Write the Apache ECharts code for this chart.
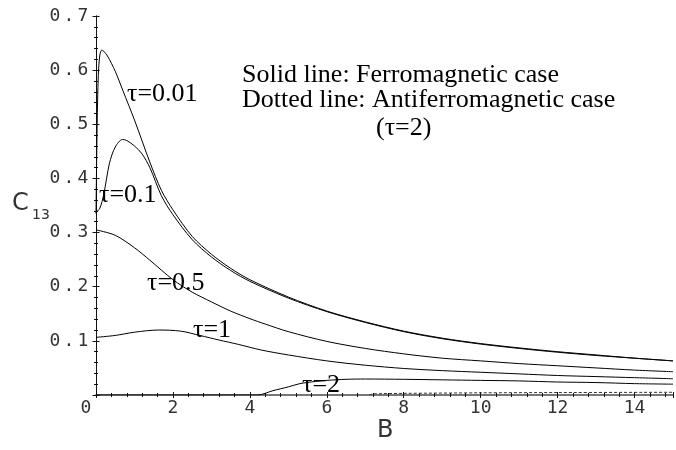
<!DOCTYPE html>
<html>
<head>
<meta charset="utf-8">
<script src="https://cdn.jsdelivr.net/npm/echarts@6/dist/echarts.min.js"></script>
<style>
  html, body { margin: 0; padding: 0; background: #fff; }
  #grafiek { width: 676px; height: 450px; }
</style>
</head>
<body>
<div id="grafiek"></div>
<script>
// concurrence C13 against field B
let tau001 = [[0, 0.335], [0.03, 0.5], [0.06, 0.59], [0.1, 0.628], [0.15, 0.637], [0.2, 0.635], [0.3, 0.626],
    [0.5, 0.598], [0.7, 0.562], [1.0, 0.508], [1.4, 0.43], [1.7, 0.378], [2.0, 0.342], [2.5, 0.293], [3, 0.26],
    [3.5, 0.234], [4, 0.213], [5, 0.181], [6, 0.155], [7, 0.135], [8, 0.118], [9, 0.105], [10, 0.095],
    [11, 0.087], [12, 0.08], [13, 0.074], [14, 0.068], [15, 0.063]];
let tau01 = [[0, 0.337], [0.1, 0.345], [0.2, 0.37], [0.35, 0.428], [0.5, 0.458], [0.69, 0.472], [0.8, 0.47],
    [1.0, 0.46], [1.2, 0.445], [1.4, 0.42], [1.7, 0.368], [2.0, 0.333], [2.5, 0.287], [3, 0.255], [3.5, 0.23],
    [4, 0.21], [5, 0.179], [6, 0.154], [7, 0.134], [8, 0.117], [9, 0.104], [10, 0.094], [11, 0.086],
    [12, 0.079], [13, 0.073], [14, 0.068], [15, 0.063]];
let tau05 = [[0, 0.305], [0.5, 0.295], [1, 0.272], [1.4, 0.249], [2, 0.213], [2.5, 0.19], [3, 0.172],
    [3.5, 0.155], [4, 0.141], [4.4, 0.131], [5, 0.117], [6, 0.099], [7, 0.086], [8, 0.076],
    [9, 0.068], [10, 0.063], [11, 0.058], [12, 0.054], [13, 0.05], [14, 0.046], [15, 0.043]];
let tau1 = [[0, 0.1065], [0.5, 0.11], [1.0, 0.116], [1.63, 0.12], [2.2, 0.118], [2.7, 0.11], [3.2, 0.1015],
    [3.7, 0.0935], [4.3, 0.083], [5, 0.074], [6, 0.063], [7, 0.055], [8, 0.049], [9, 0.045], [10, 0.042],
    [11, 0.039], [12, 0.036], [13, 0.034], [14, 0.032], [15, 0.03]];
let tau2 = [[0, 0], [4.2, 0], [4.6, 0.008], [5, 0.015], [5.3, 0.021], [5.7, 0.025], [6, 0.027], [6.5, 0.029],
    [7, 0.0295], [8, 0.029], [9, 0.028], [10, 0.027], [11, 0.026], [12, 0.024], [13, 0.023], [14, 0.021],
    [15, 0.02]];
// antiferromagnetisch geval, tau = 2 (stippellijn)
let tau2af = [[7.1, 0], [7.2, 0.002], [8, 0.003], [10, 0.004], [12, 0.0045], [15, 0.005]];

let xTicks = [0, 2, 4, 6, 8, 10, 12, 14];
let yTicks = [0.1, 0.2, 0.3, 0.4, 0.5, 0.6, 0.7];

const serif = 'Liberation Serif';
const mono = 'DejaVu Sans Mono';

function lijn(data, dashed) {
    return {
        type: 'line',
        data: data,
        showSymbol: false,
        smooth: 0.3,
        silent: true,
        lineStyle: dashed ? { color: '#333', width: 1, type: [3, 2] } : { color: '#000', width: 1 }
    };
}

function tekst(str, left, y, size) {
    return {
        type: 'text',
        left: left,
        top: y - size / 2,
        style: { text: str, font: size + 'px "' + serif + '"', fill: '#000' }
    };
}

function toonGrafiek() {
    let grafiek = echarts.init(document.getElementById('grafiek'));
    let xBase = {
        type: 'value', min: 0, max: 15, interval: 2,
        position: 'bottom',
        axisLine: { onZero: false, lineStyle: { color: '#111', width: 1 } },
        splitLine: { show: false },
        minorTick: { show: true, splitNumber: 5, length: 2, lineStyle: { color: '#111' } }
    };
    let yBase = {
        type: 'value', min: 0, max: 0.7, interval: 0.1,
        position: 'left',
        axisLine: { onZero: false, lineStyle: { color: '#111', width: 1 } },
        splitLine: { show: false },
        minorTick: { show: true, splitNumber: 5, length: 2, lineStyle: { color: '#111' } }
    };
    let option = {
        backgroundColor: '#fff',
        animation: false,
        grid: { left: 96, right: -5, top: 16, bottom: 55 },
        xAxis: [
            Object.assign({}, xBase, {
                axisTick: { length: 3, lineStyle: { color: '#111' } },
                axisLabel: {
                    margin: 4,
                    fontFamily: mono, fontSize: 18, color: '#333',
                    formatter: v => (xTicks.indexOf(v) < 0 ? '' : (v === 0 ? '{o|0}' : String(v))),
                    rich: { o: { fontFamily: mono, fontSize: 18, color: '#333', padding: [0, 20, 0, 0] } }
                }
            }),
            Object.assign({}, xBase, {
                axisTick: { inside: true, length: 3, lineStyle: { color: '#111' } },
                axisLabel: { show: false }
            }),
            {
                type: 'value', min: 0, max: 15, position: 'top',
                axisLine: { lineStyle: { color: '#777', width: 2 } },
                axisTick: { show: false }, axisLabel: { show: false }, splitLine: { show: false }
            }
        ],
        yAxis: [
            Object.assign({}, yBase, {
                axisTick: { length: 3.5, lineStyle: { color: '#111' } },
                axisLabel: {
                    margin: 6,
                    formatter: function (v) {
                        let s = v.toFixed(1);
                        if (yTicks.indexOf(+s) < 0) return '';
                        return s.split('').map(ch => '{d|' + ch + '}').join('');
                    },
                    rich: { d: { width: 14, align: 'center', fontFamily: mono, fontSize: 18, color: '#333' } }
                }
            }),
            Object.assign({}, yBase, {
                axisTick: { inside: true, length: 3.5, lineStyle: { color: '#111' } },
                axisLabel: { show: false }
            })
        ],
        series: [
            lijn(tau001), lijn(tau01), lijn(tau05), lijn(tau1), lijn(tau2), lijn(tau2af, true)
        ],
        graphic: [
            { type: 'text', left: 12, top: 192, style: { text: 'C', font: '24px "DejaVu Sans"', fill: '#333' } },
            { type: 'text', left: 32, top: 208, style: { text: '13', font: '14px "DejaVu Sans"', fill: '#333' } },
            { type: 'text', left: 377, top: 419, style: { text: 'B', font: '24px "DejaVu Sans"', fill: '#333' } },
            tekst('τ=0.01', 127, 94, 26),
            tekst('τ=0.1', 99, 195, 26),
            tekst('τ=0.5', 147, 283, 26),
            tekst('τ=1', 193, 330, 26),
            tekst('τ=2', 302, 385, 26),
            tekst('Solid line: Ferromagnetic case', 242, 75, 26),
            tekst('Dotted line: Antiferromagnetic case', 242, 100, 26),
            tekst('(τ=2)', 376, 128, 26)
        ]
    };
    grafiek.setOption(option);
}

window.onload = function () {
    if (document.getElementById('grafiek')) {
        toonGrafiek();
    } else {
        console.error("Element #grafiek niet gevonden!");
    }
};
</script>
</body>
</html>
